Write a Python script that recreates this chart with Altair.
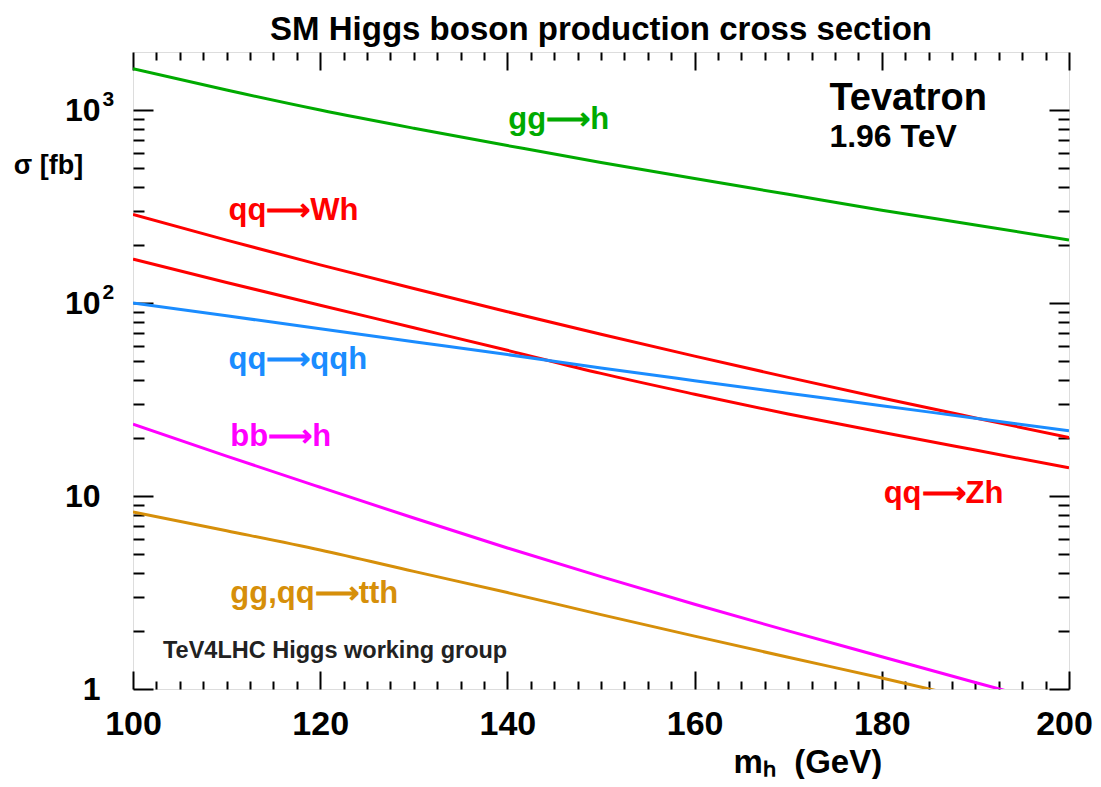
import altair as alt
import pandas as pd

# ---- data ----
masses = [100, 110, 120, 130, 140, 150, 160, 170, 180, 190, 200]
gg_h = [1640, 1270, 1000, 805, 655, 535, 442, 366, 303, 254, 212]
qq_wh = [287.7, 211.8, 157.8, 118.9, 90.2, 68.9, 53.1, 41.2, 32.2, 25.4, 20.1]
qq_zh = [169, 127.9, 97.5, 74.5, 56.9, 43.2, 33.7, 26.6, 21.4, 17.3, 14.0]
qq_qqh = [100, 85.9, 73.6, 63.1, 54.1, 46.1, 39.6, 34.1, 29.4, 25.3, 21.8]
bb_h = [23.6, 16.1, 11.1, 7.69, 5.38, 3.82, 2.75, 2.00, 1.47, 1.08, 0.80]
tth = [8.28, 6.61, 5.25, 4.07, 3.16, 2.43, 1.88, 1.46, 1.14, 0.88, 0.68]

series_names = ["gg→h", "qq→Wh", "qq→Zh", "qq→qqh", "bb→h", "gg,qq→tth"]
series_values = [gg_h, qq_wh, qq_zh, qq_qqh, bb_h, tth]
series_colors = ["#00aa00", "#ff0000", "#ff0000", "#1a8cff", "#ff00ff", "#d68f0a"]

x_label_values = [100, 120, 140, 160, 180, 200]
x_tick_values = [100 + 2.5 * i for i in range(41)]
y_label_values = [1, 10, 100, 1000]
y_exp_values = [100, 1000]
y_tick_values = [d * k for d in [1, 10, 100] for k in range(1, 10)] + [1000]

# curve labels (data coordinates)
label_series = ["gg→h", "qq→Wh", "qq→qqh", "bb→h", "gg,qq→tth", "qq→Zh"]
label_text = ["gg⟶h", "qq⟶Wh", "qq⟶qqh", "bb⟶h", "gg,qq⟶tth", "qq⟶Zh"]
label_m = [140.1, 110.2, 110.2, 110.4, 110.4, 180.2]
label_sigma = [798, 268.7, 45.8, 18.2, 2.79, 9.2]

FONT = "Liberation Sans"
W, H = 936, 637

rows = []
for name, vals in zip(series_names, series_values):
    for m, v in zip(masses, vals):
        rows.append({"series": name, "m": m, "sigma": v})
df = pd.DataFrame(rows)

xs = alt.Scale(domain=[100, 200], nice=False, zero=False)
ys = alt.Scale(type="log", domain=[1, 2000], nice=False)
cs = alt.Scale(domain=series_names, range=series_colors)

x_major = "datum.value % 20 === 0"
y_major = "indexof([1, 10, 100, 1000], datum.value) >= 0"


def tick_axis(orient, offset, values, test, major, minor):
    return alt.Axis(
        orient=orient, offset=offset, values=values, labels=False, domain=False,
        grid=False, title=None, ticks=True, tickColor="black", tickWidth=2,
        tickSize={"condition": {"test": test, "value": major}, "value": minor},
    )


y_label_expr = "datum.value == 1 ? '1' : '10'"
y_exp_expr = "datum.value == 1000 ? '3' : '2'"

lines = alt.Chart(df).mark_line(strokeWidth=3, clip=True, interpolate="monotone").encode(
    x=alt.X("m:Q", scale=xs, axis=alt.Axis(
        orient="bottom", values=x_label_values, ticks=False, tickSize=0, domain=False,
        grid=False, labelFontSize=34, labelFont=FONT, labelFontWeight="bold",
        labelColor="black", labelPadding=18, labelFlush=False, labelOverlap=False,
        labelOffset={"condition": {"test": "datum.value == 200", "value": -5}, "value": 0},
        title="mₕ\u00a0\u00a0(GeV)", titleX=600, titleY=83, titleAlign="left",
        titleBaseline="alphabetic", titleFontSize=33, titleFont=FONT,
        titleFontWeight="bold", titleColor="black")),
    y=alt.Y("sigma:Q", scale=ys, axis=alt.Axis(
        orient="left", values=y_label_values, labelExpr=y_label_expr, ticks=False,
        tickSize=0, domain=False, grid=False, labelFontSize=32, labelFont=FONT,
        labelFontWeight="bold", labelColor="black", labelPadding=33,
        labelOverlap=False, labelBaseline="middle",
        title="σ [fb]", titleAngle=0, titleX=-85, titleY=113, titleAlign="center",
        titleBaseline="middle", titleFontSize=27, titleFont=FONT,
        titleFontWeight="bold", titleColor="black")),
    color=alt.Color("series:N", scale=cs, legend=None),
)

ticks_a = alt.Chart(df).mark_point(opacity=0, size=1).encode(
    x=alt.X("m:Q", scale=xs, axis=tick_axis("top", -H, x_tick_values, x_major, 18, 8)),
    y=alt.Y("sigma:Q", scale=ys, axis=tick_axis("right", -W, y_tick_values, y_major, 20, 11)),
)
ticks_b = alt.Chart(df).mark_point(opacity=0, size=1).encode(
    x=alt.X("m:Q", scale=xs, axis=tick_axis("bottom", -H, x_tick_values, x_major, 18, 8)),
    y=alt.Y("sigma:Q", scale=ys, axis=tick_axis("left", -W, y_tick_values, y_major, 20, 11)),
)
# exponents of the y labels (10^2, 10^3)
exps = alt.Chart(df).mark_point(opacity=0, size=1).encode(
    y=alt.Y("sigma:Q", scale=ys, axis=alt.Axis(
        orient="left", values=y_exp_values, labelExpr=y_exp_expr, ticks=False,
        tickSize=0, domain=False, grid=False, title=None, labelFontSize=21,
        labelFont=FONT, labelFontWeight="bold", labelColor="black",
        labelAlign="left", labelPadding=31, labelBaseline="middle",
        labelOffset=-11, labelOverlap=False)),
)

lab_df = pd.DataFrame({"series": label_series, "text": label_text,
                       "m": label_m, "sigma": label_sigma})
curve_labels = alt.Chart(lab_df).mark_text(
    align="left", baseline="alphabetic", font=FONT, fontWeight="bold", fontSize=31
).encode(
    x=alt.X("m:Q", scale=xs, axis=None),
    y=alt.Y("sigma:Q", scale=ys, axis=None),
    text="text:N",
    color=alt.Color("series:N", scale=cs, legend=None),
)

note_text = ["Tevatron", "1.96 TeV", "TeV4LHC Higgs working group"]
note_m = [174.4, 174.4, 103.2]
note_sigma = [1000, 647, 1.45]
note_sizes = [38, 32, 23.5]
note_colors = ["black", "black", "#222222"]

notes = []
for t, m, s, fs, c in zip(note_text, note_m, note_sigma, note_sizes, note_colors):
    notes.append(
        alt.Chart(pd.DataFrame({"m": [m], "sigma": [s], "t": [t]})).mark_text(
            align="left", baseline="alphabetic", font=FONT, fontWeight="bold",
            fontSize=fs, color=c
        ).encode(
            x=alt.X("m:Q", scale=xs, axis=None),
            y=alt.Y("sigma:Q", scale=ys, axis=None),
            text="t:N",
        )
    )

chart = alt.layer(lines, ticks_a, ticks_b, exps, curve_labels, *notes).resolve_axis(
    x="independent", y="independent"
).properties(
    width=W, height=H,
    autosize=alt.AutoSizeParams(type="none"),
    padding={"left": 125, "top": 44, "right": 24, "bottom": 90},
    title=alt.TitleParams(
        "SM Higgs boson production cross section", fontSize=33, font=FONT,
        fontWeight="bold", anchor="middle", frame="group", offset=4, color="black"
    ),
).configure_view(stroke="black", strokeWidth=3).configure(font=FONT)

chart.save("out.html", embed_options={"renderer": "svg", "actions": False})
